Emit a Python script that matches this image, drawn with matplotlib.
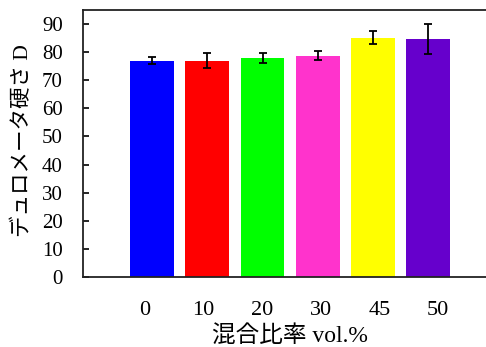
import matplotlib
matplotlib.use("Agg")
import matplotlib.pyplot as plt
import numpy as np

# Durometer hardness (type D) vs. blend ratio
ratios = ["0", "10", "20", "30", "45", "50"]
hardness = [77.0, 77.0, 77.8, 78.8, 85.2, 84.6]
errors = [1.3, 2.6, 1.8, 1.6, 2.2, 5.4]
colors = ["#0000FF", "#FF0000", "#00FF00", "#FF33CC", "#FFFF00", "#6600CC"]
yticks = [0, 10, 20, 30, 40, 50, 60, 70, 80, 90]

plt.rcParams["font.family"] = ["Liberation Serif", "Noto Sans CJK JP"]

fig = plt.figure(figsize=(4.86, 3.47), dpi=100)
ax = fig.add_axes([0.1708, 0.2017, 0.832, 0.7695])

x = np.arange(len(ratios))
ax.bar(x, hardness, width=0.79, color=colors, zorder=2)
ax.errorbar(x, hardness, yerr=errors, fmt="none", ecolor="black",
            elinewidth=1.3, capsize=3.2, capthick=1.3, zorder=3)

ax.set_xlim(-1.25, 6.07)
ax.set_ylim(0, 95)
ax.set_yticks(yticks)
# category labels are laid out on a slightly wider, evenly spaced grid
ax.set_xticks(x * 1.062 - 0.13)
ax.set_xticklabels(ratios)

ax.tick_params(axis="y", direction="in", length=4.5, width=1.2, pad=14.5,
               labelsize=15)
ax.tick_params(axis="x", length=0, pad=17, labelsize=16)

for s in ax.spines.values():
    s.set_linewidth(1.3)
    s.set_color("#222222")

ax.set_ylabel("デュロメータ硬さ D", fontsize=15.5)
ax.yaxis.set_label_coords(-0.147, 0.51)
ax.yaxis.label.set_va("center")
ax.set_xlabel("混合比率 vol.%", fontsize=17)
ax.xaxis.set_label_coords(0.512, -0.222)
ax.xaxis.label.set_va("center")

fig.savefig("out.png", dpi=100)
